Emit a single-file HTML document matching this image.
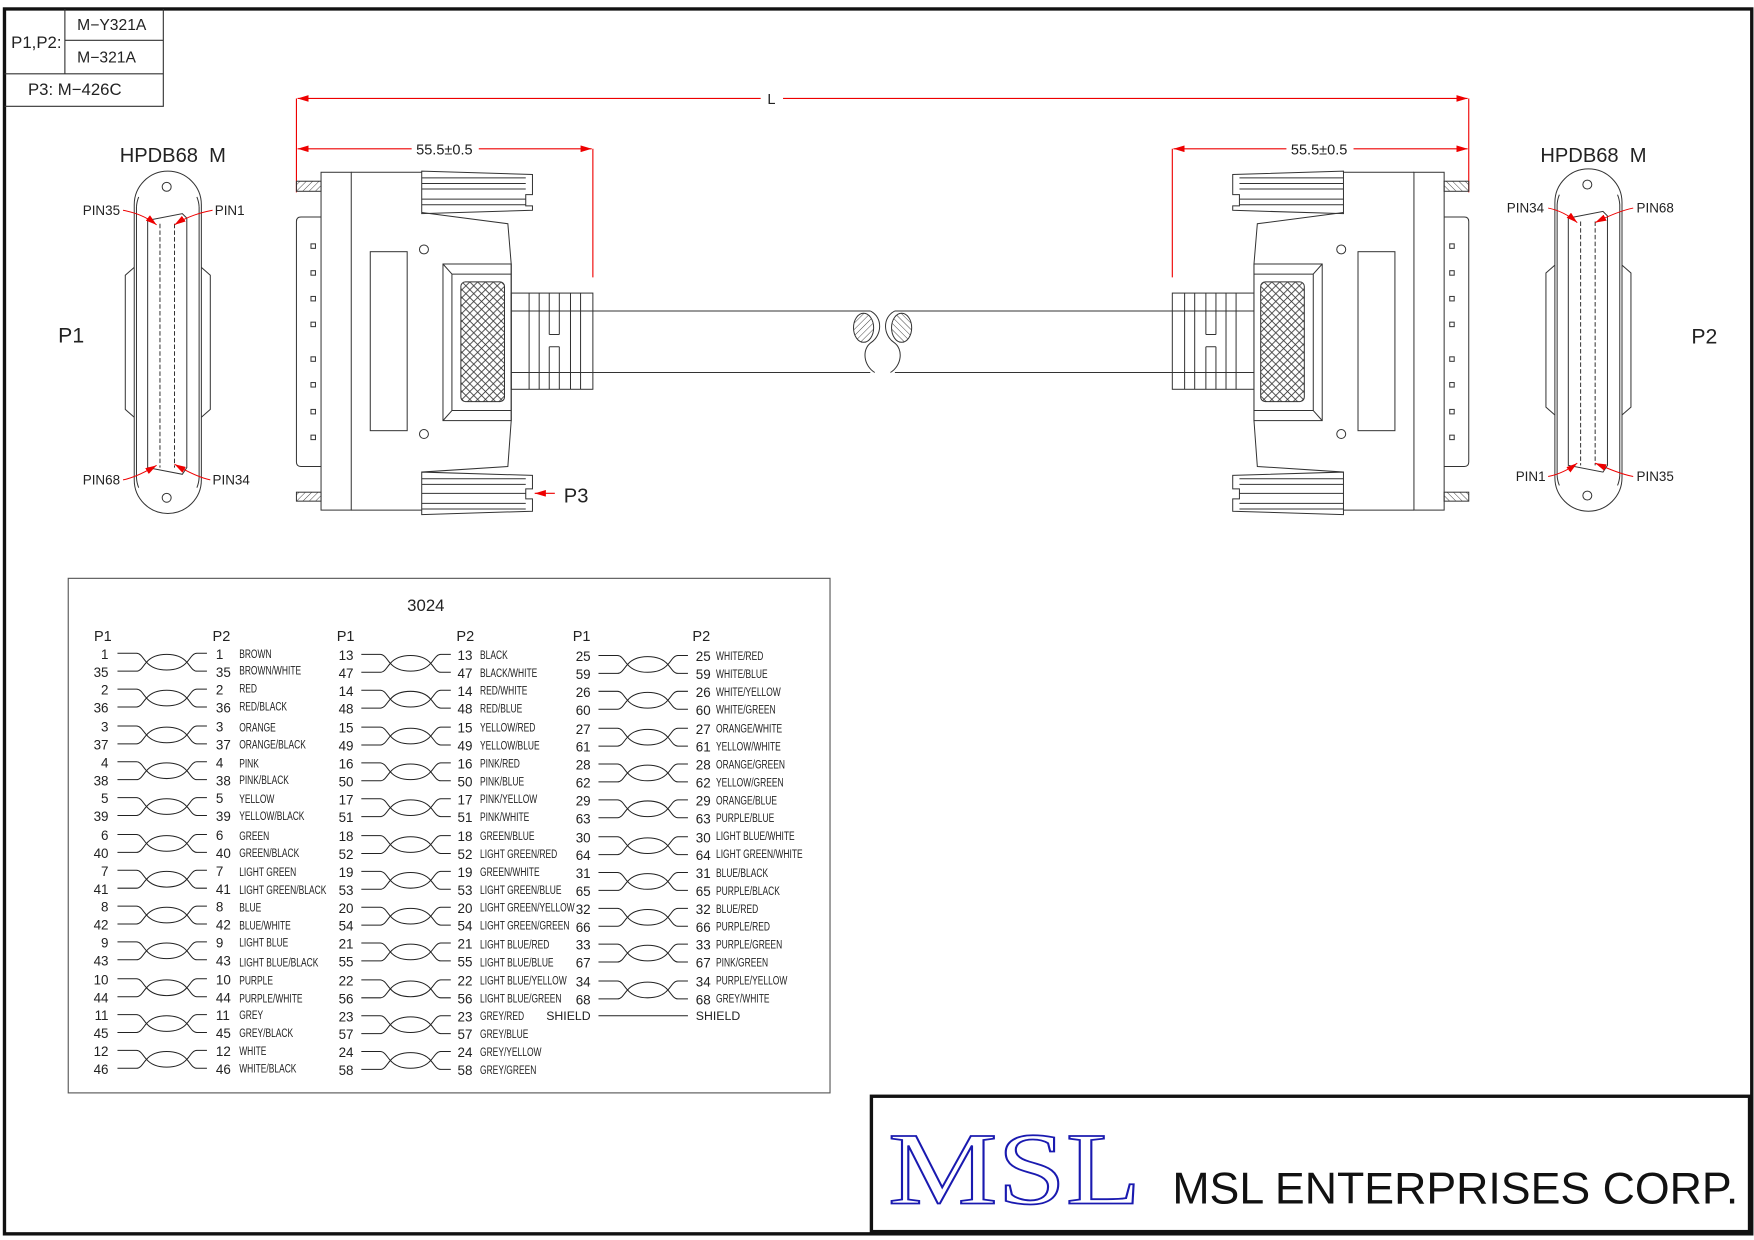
<!DOCTYPE html>
<html><head><meta charset="utf-8"><style>
html,body{margin:0;padding:0;background:#fff;}
svg{display:block;}
text{font-family:"Liberation Sans",sans-serif;fill:#222;}
.n{font-size:12px;}
</style></head><body>
<svg width="1754" height="1240" viewBox="0 0 1568 1108.5" xmlns="http://www.w3.org/2000/svg">
<defs>
<pattern id="xh" width="7" height="7" patternUnits="userSpaceOnUse">
<path d="M0,0 L7,7 M7,0 L0,7" stroke="#333" stroke-width="0.7"/>
</pattern>
<pattern id="hh" width="4" height="4" patternUnits="userSpaceOnUse" patternTransform="rotate(45)">
<path d="M0,0 V4" stroke="#333" stroke-width="0.8"/>
</pattern>
<marker id="ar" viewBox="0 0 10 6" refX="10" refY="3" markerWidth="10" markerHeight="6" orient="auto" markerUnits="userSpaceOnUse">
<path d="M0,0 L10,3 L0,6 z" fill="#e00"/>
</marker>
<g id="tw" fill="none" stroke="#222" stroke-width="0.9">
<path d="M0 0 H17 C21 0 23 5 26 8 C31 14 38 15 44 15 C50 15 57 14 62 8 C65 5 67 0 71 0 H80"/>
<path d="M0 16 H17 C21 16 23 11 26 8 C31 2 38 1 44 1 C50 1 57 2 62 8 C65 11 67 16 71 16 H80"/>
</g>
<g id="pinc" fill="none" stroke="#333" stroke-width="0.9">
<path d="M120,183 A30,30 0 0 1 180,183 V429 A30,30 0 0 1 120,429 Z"/>
<path d="M122,185 A27,27 0 0 1 124,176 M178,185 A27,27 0 0 0 176,176 M122,185 V427 M178,185 V427 M122,427 A27,27 0 0 0 124,436 M178,427 A27,27 0 0 1 176,436"/>
<path d="M120,239 L112,246 V366 L120,373 M180,239 L188,246 V366 L180,373"/>
<circle cx="149" cy="167" r="4"/><circle cx="149" cy="445" r="4"/>
<path d="M132,197 L163,191 L167,195 V418 L163,424 L132,418 Z"/>
<path d="M143,200 V418 M156,200 V418" stroke-dasharray="4,2"/>
</g>
<g id="plug" fill="none" stroke="#333" stroke-width="0.9">
<rect x="265" y="162" width="22" height="9" fill="url(#hh)"/>
<rect x="265" y="440" width="22" height="8" fill="url(#hh)"/>
<path d="M287,194 H269 Q265,194 265,198 V413 Q265,417 269,417 H287"/>
<g fill="none">
<rect x="278" y="218" width="4" height="4"/><rect x="278" y="242" width="4" height="4"/>
<rect x="278" y="265" width="4" height="4"/><rect x="278" y="288" width="4" height="4"/>
<rect x="278" y="319" width="4" height="4"/><rect x="278" y="342" width="4" height="4"/>
<rect x="278" y="366" width="4" height="4"/><rect x="278" y="389" width="4" height="4"/>
</g>
<rect x="287" y="154" width="27" height="302"/>
<path d="M314,154 H377 M377,190 L454,200 L457,236 V376 L454,417 L377,422 M314,456 H377"/>
<path d="M377,153 L476,156 V174 H470 V184 H476 V188 L377,191 Z"/>
<path d="M377,159 H470 M377,164 H470 M377,169 H470 M377,178 H470 M377,183 H470"/>
<path d="M377,422 L476,425 V437 H470 V446 H476 V457 L377,460 Z"/>
<path d="M377,428 H470 M377,433 H470 M377,441 H470 M377,450 H470 M377,455 H470"/>
<rect x="331" y="225" width="33" height="160"/>
<circle cx="379" cy="223" r="4"/><circle cx="379" cy="388" r="4"/>
<rect x="396" y="236" width="61" height="140"/>
<path d="M404,245 H457 M404,367 H457 M404,245 V367 M396,236 L404,245 M396,376 L404,367"/>
<rect x="412" y="252" width="39" height="107" rx="4" fill="url(#xh)"/>
<rect x="457" y="262" width="73" height="86"/>
<path d="M473,262 V348 M482,262 V348 M491,262 V299 M491,310 V348 M500,262 V299 M500,310 V348 M491,299 H500 M491,310 H500 M510,262 V348 M519,262 V348 M457,278 H530 M457,333 H530"/>
<path d="M530,278 H778 M530,333 H778"/>
<path d="M778,278 C790,284 788,300 779,306 C770,312 772,327 782,333"/>
<ellipse cx="772" cy="293" rx="9" ry="13" fill="url(#hh)"/>
</g>
</defs>

<rect x="4" y="8" width="1562" height="1095" fill="none" stroke="#111" stroke-width="3"/>
<g fill="none" stroke="#333" stroke-width="1">
<path d="M4,95 H146 V8 M58,8 V66 M58,36 H146 M4,66 H146"/>
</g>
<text x="10" y="43" style="font-size:15px">P1,P2:</text>
<text x="69" y="27" style="font-size:14px">M−Y321A</text>
<text x="69" y="56" style="font-size:14px">M−321A</text>
<text x="25" y="85" style="font-size:15px">P3: M−426C</text>

<g stroke="#e00" stroke-width="1" fill="none">
<path d="M265,88 V172 M1313,88 V172 M530,133 V248 M1048,133 V248"/>
<path d="M680,88 H266" marker-end="url(#ar)"/><path d="M700,88 H1312" marker-end="url(#ar)"/>
<path d="M368,133 H266" marker-end="url(#ar)"/><path d="M428,133 H529" marker-end="url(#ar)"/>
<path d="M1150,133 H1049" marker-end="url(#ar)"/><path d="M1210,133 H1312" marker-end="url(#ar)"/>
</g>
<text x="686" y="93" style="font-size:13px">L</text>
<text x="372" y="138" style="font-size:13px">55.5±0.5</text>
<text x="1154" y="138" style="font-size:13px">55.5±0.5</text>

<use href="#plug"/>
<use href="#plug" transform="translate(1578,0) scale(-1,1)"/>
<path d="M496,441 H478" stroke="#e00" marker-end="url(#ar)"/>
<text x="504" y="449" style="font-size:18px">P3</text>

<use href="#pinc"/>
<use href="#pinc" transform="translate(1270,-2)"/>
<text x="107" y="145" style="font-size:18px">HPDB68&#160;&#160;M</text>
<text x="1377" y="145" style="font-size:18px">HPDB68&#160;&#160;M</text>
<text x="52" y="306" style="font-size:19px">P1</text>
<text x="1512" y="307" style="font-size:19px">P2</text>
<g style="font-size:12px">
<text x="74" y="192">PIN35</text><text x="192" y="192">PIN1</text>
<text x="74" y="433">PIN68</text><text x="190" y="433">PIN34</text>
<text x="1347" y="190">PIN34</text><text x="1463" y="190">PIN68</text>
<text x="1355" y="430">PIN1</text><text x="1463" y="430">PIN35</text>
</g>
<g stroke="#e00" stroke-width="0.9" fill="none">
<path d="M110,188 C120,190 130,193 140,201" marker-end="url(#ar)"/>
<path d="M190,188 C180,190 168,193 156,201" marker-end="url(#ar)"/>
<path d="M110,429 C120,427 130,422 140,416" marker-end="url(#ar)"/>
<path d="M188,429 C178,427 168,422 156,415" marker-end="url(#ar)"/>
<path d="M1384,186 C1394,188 1402,192 1410,199" marker-end="url(#ar)"/>
<path d="M1460,186 C1450,188 1440,192 1426,199" marker-end="url(#ar)"/>
<path d="M1384,426 C1394,424 1402,420 1410,414" marker-end="url(#ar)"/>
<path d="M1460,426 C1450,424 1440,420 1426,414" marker-end="url(#ar)"/>
</g>

<rect x="61" y="517" width="681" height="460" fill="none" stroke="#555" stroke-width="1"/>
<text x="364" y="546" style="font-size:15px">3024</text>
<g style="font-size:13px"><text x="84" y="573">P1</text><text x="190" y="573">P2</text><text x="301" y="573">P1</text><text x="408" y="573">P2</text><text x="512" y="573">P1</text><text x="619" y="573">P2</text></g>

<g>
<use href="#tw" x="105" y="584"/><use href="#tw" x="105" y="616"/><use href="#tw" x="105" y="649"/><use href="#tw" x="105" y="681"/><use href="#tw" x="105" y="713"/><use href="#tw" x="105" y="746"/><use href="#tw" x="105" y="778"/><use href="#tw" x="105" y="810"/><use href="#tw" x="105" y="842"/><use href="#tw" x="105" y="875"/><use href="#tw" x="105" y="907"/><use href="#tw" x="105" y="939"/>
<use href="#tw" x="323" y="585"/><use href="#tw" x="323" y="617"/><use href="#tw" x="323" y="650"/><use href="#tw" x="323" y="682"/><use href="#tw" x="323" y="714"/><use href="#tw" x="323" y="747"/><use href="#tw" x="323" y="779"/><use href="#tw" x="323" y="811"/><use href="#tw" x="323" y="843"/><use href="#tw" x="323" y="876"/><use href="#tw" x="323" y="908"/><use href="#tw" x="323" y="940"/>
<use href="#tw" x="535" y="586"/><use href="#tw" x="535" y="618"/><use href="#tw" x="535" y="651"/><use href="#tw" x="535" y="683"/><use href="#tw" x="535" y="715"/><use href="#tw" x="535" y="748"/><use href="#tw" x="535" y="780"/><use href="#tw" x="535" y="812"/><use href="#tw" x="535" y="844"/><use href="#tw" x="535" y="877"/>
<path d="M535,908 H615" stroke="#222" stroke-width="0.9"/>
</g>

<g class="n" text-anchor="end">
<text x="97" y="589">1</text><text x="97" y="605">35</text><text x="97" y="621">2</text><text x="97" y="637">36</text><text x="97" y="654">3</text><text x="97" y="670">37</text><text x="97" y="686">4</text><text x="97" y="702">38</text><text x="97" y="718">5</text><text x="97" y="734">39</text><text x="97" y="751">6</text><text x="97" y="767">40</text><text x="97" y="783">7</text><text x="97" y="799">41</text><text x="97" y="815">8</text><text x="97" y="831">42</text><text x="97" y="847">9</text><text x="97" y="863">43</text><text x="97" y="880">10</text><text x="97" y="896">44</text><text x="97" y="912">11</text><text x="97" y="928">45</text><text x="97" y="944">12</text><text x="97" y="960">46</text>
<text x="316" y="590">13</text><text x="316" y="606">47</text><text x="316" y="622">14</text><text x="316" y="638">48</text><text x="316" y="655">15</text><text x="316" y="671">49</text><text x="316" y="687">16</text><text x="316" y="703">50</text><text x="316" y="719">17</text><text x="316" y="735">51</text><text x="316" y="752">18</text><text x="316" y="768">52</text><text x="316" y="784">19</text><text x="316" y="800">53</text><text x="316" y="816">20</text><text x="316" y="832">54</text><text x="316" y="848">21</text><text x="316" y="864">55</text><text x="316" y="881">22</text><text x="316" y="897">56</text><text x="316" y="913">23</text><text x="316" y="929">57</text><text x="316" y="945">24</text><text x="316" y="961">58</text>
<text x="528" y="591">25</text><text x="528" y="607">59</text><text x="528" y="623">26</text><text x="528" y="639">60</text><text x="528" y="656">27</text><text x="528" y="672">61</text><text x="528" y="688">28</text><text x="528" y="704">62</text><text x="528" y="720">29</text><text x="528" y="736">63</text><text x="528" y="753">30</text><text x="528" y="769">64</text><text x="528" y="785">31</text><text x="528" y="801">65</text><text x="528" y="817">32</text><text x="528" y="833">66</text><text x="528" y="849">33</text><text x="528" y="865">67</text><text x="528" y="882">34</text><text x="528" y="898">68</text><text x="528" y="912" style="font-size:11px">SHIELD</text>
</g>
<g class="n">
<text x="193" y="589">1</text><text x="193" y="605">35</text><text x="193" y="621">2</text><text x="193" y="637">36</text><text x="193" y="654">3</text><text x="193" y="670">37</text><text x="193" y="686">4</text><text x="193" y="702">38</text><text x="193" y="718">5</text><text x="193" y="734">39</text><text x="193" y="751">6</text><text x="193" y="767">40</text><text x="193" y="783">7</text><text x="193" y="799">41</text><text x="193" y="815">8</text><text x="193" y="831">42</text><text x="193" y="847">9</text><text x="193" y="863">43</text><text x="193" y="880">10</text><text x="193" y="896">44</text><text x="193" y="912">11</text><text x="193" y="928">45</text><text x="193" y="944">12</text><text x="193" y="960">46</text>
<text x="409" y="590">13</text><text x="409" y="606">47</text><text x="409" y="622">14</text><text x="409" y="638">48</text><text x="409" y="655">15</text><text x="409" y="671">49</text><text x="409" y="687">16</text><text x="409" y="703">50</text><text x="409" y="719">17</text><text x="409" y="735">51</text><text x="409" y="752">18</text><text x="409" y="768">52</text><text x="409" y="784">19</text><text x="409" y="800">53</text><text x="409" y="816">20</text><text x="409" y="832">54</text><text x="409" y="848">21</text><text x="409" y="864">55</text><text x="409" y="881">22</text><text x="409" y="897">56</text><text x="409" y="913">23</text><text x="409" y="929">57</text><text x="409" y="945">24</text><text x="409" y="961">58</text>
<text x="622" y="591">25</text><text x="622" y="607">59</text><text x="622" y="623">26</text><text x="622" y="639">60</text><text x="622" y="656">27</text><text x="622" y="672">61</text><text x="622" y="688">28</text><text x="622" y="704">62</text><text x="622" y="720">29</text><text x="622" y="736">63</text><text x="622" y="753">30</text><text x="622" y="769">64</text><text x="622" y="785">31</text><text x="622" y="801">65</text><text x="622" y="817">32</text><text x="622" y="833">66</text><text x="622" y="849">33</text><text x="622" y="865">67</text><text x="622" y="882">34</text><text x="622" y="898">68</text><text x="622" y="912" style="font-size:11px">SHIELD</text>
</g>
<g style="font-size:10.5px" transform="scale(0.72,1)">
<text x="297" y="588">BROWN</text><text x="297" y="603">BROWN/WHITE</text><text x="297" y="619">RED</text><text x="297" y="635">RED/BLACK</text><text x="297" y="654">ORANGE</text><text x="297" y="669">ORANGE/BLACK</text><text x="297" y="686">PINK</text><text x="297" y="701">PINK/BLACK</text><text x="297" y="718">YELLOW</text><text x="297" y="733">YELLOW/BLACK</text><text x="297" y="751">GREEN</text><text x="297" y="766">GREEN/BLACK</text><text x="297" y="783">LIGHT GREEN</text><text x="297" y="799">LIGHT GREEN/BLACK</text><text x="297" y="815">BLUE</text><text x="297" y="831">BLUE/WHITE</text><text x="297" y="846">LIGHT BLUE</text><text x="297" y="864">LIGHT BLUE/BLACK</text><text x="297" y="880">PURPLE</text><text x="297" y="896">PURPLE/WHITE</text><text x="297" y="911">GREY</text><text x="297" y="927">GREY/BLACK</text><text x="297" y="943">WHITE</text><text x="297" y="959">WHITE/BLACK</text>
<text x="596" y="589">BLACK</text><text x="596" y="605">BLACK/WHITE</text><text x="596" y="621">RED/WHITE</text><text x="596" y="637">RED/BLUE</text><text x="596" y="654">YELLOW/RED</text><text x="596" y="670">YELLOW/BLUE</text><text x="596" y="686">PINK/RED</text><text x="596" y="702">PINK/BLUE</text><text x="596" y="718">PINK/YELLOW</text><text x="596" y="734">PINK/WHITE</text><text x="596" y="751">GREEN/BLUE</text><text x="596" y="767">LIGHT GREEN/RED</text><text x="596" y="783">GREEN/WHITE</text><text x="596" y="799">LIGHT GREEN/BLUE</text><text x="596" y="815">LIGHT GREEN/YELLOW</text><text x="596" y="831">LIGHT GREEN/GREEN</text><text x="596" y="848">LIGHT BLUE/RED</text><text x="596" y="864">LIGHT BLUE/BLUE</text><text x="596" y="880">LIGHT BLUE/YELLOW</text><text x="596" y="896">LIGHT BLUE/GREEN</text><text x="596" y="912">GREY/RED</text><text x="596" y="928">GREY/BLUE</text><text x="596" y="944">GREY/YELLOW</text><text x="596" y="960">GREY/GREEN</text>
<text x="889" y="590">WHITE/RED</text><text x="889" y="606">WHITE/BLUE</text><text x="889" y="622">WHITE/YELLOW</text><text x="889" y="638">WHITE/GREEN</text><text x="889" y="655">ORANGE/WHITE</text><text x="889" y="671">YELLOW/WHITE</text><text x="889" y="687">ORANGE/GREEN</text><text x="889" y="703">YELLOW/GREEN</text><text x="889" y="719">ORANGE/BLUE</text><text x="889" y="735">PURPLE/BLUE</text><text x="889" y="751">LIGHT BLUE/WHITE</text><text x="889" y="767">LIGHT GREEN/WHITE</text><text x="889" y="784">BLUE/BLACK</text><text x="889" y="800">PURPLE/BLACK</text><text x="889" y="816">BLUE/RED</text><text x="889" y="832">PURPLE/RED</text><text x="889" y="848">PURPLE/GREEN</text><text x="889" y="864">PINK/GREEN</text><text x="889" y="880">PURPLE/YELLOW</text><text x="889" y="896">GREY/WHITE</text>
</g>

<rect x="779" y="980" width="785" height="121" fill="none" stroke="#111" stroke-width="3"/>
<text x="794" y="1076" textLength="226" lengthAdjust="spacingAndGlyphs" style="font-family:'Liberation Serif',serif;font-size:92px;fill:#fff;stroke:#1a1ab0;stroke-width:1.6">MSL</text>
<text x="1048" y="1076" textLength="506" lengthAdjust="spacingAndGlyphs" style="font-size:40px;fill:#111">MSL ENTERPRISES CORP.</text>
</svg>
</body></html>
